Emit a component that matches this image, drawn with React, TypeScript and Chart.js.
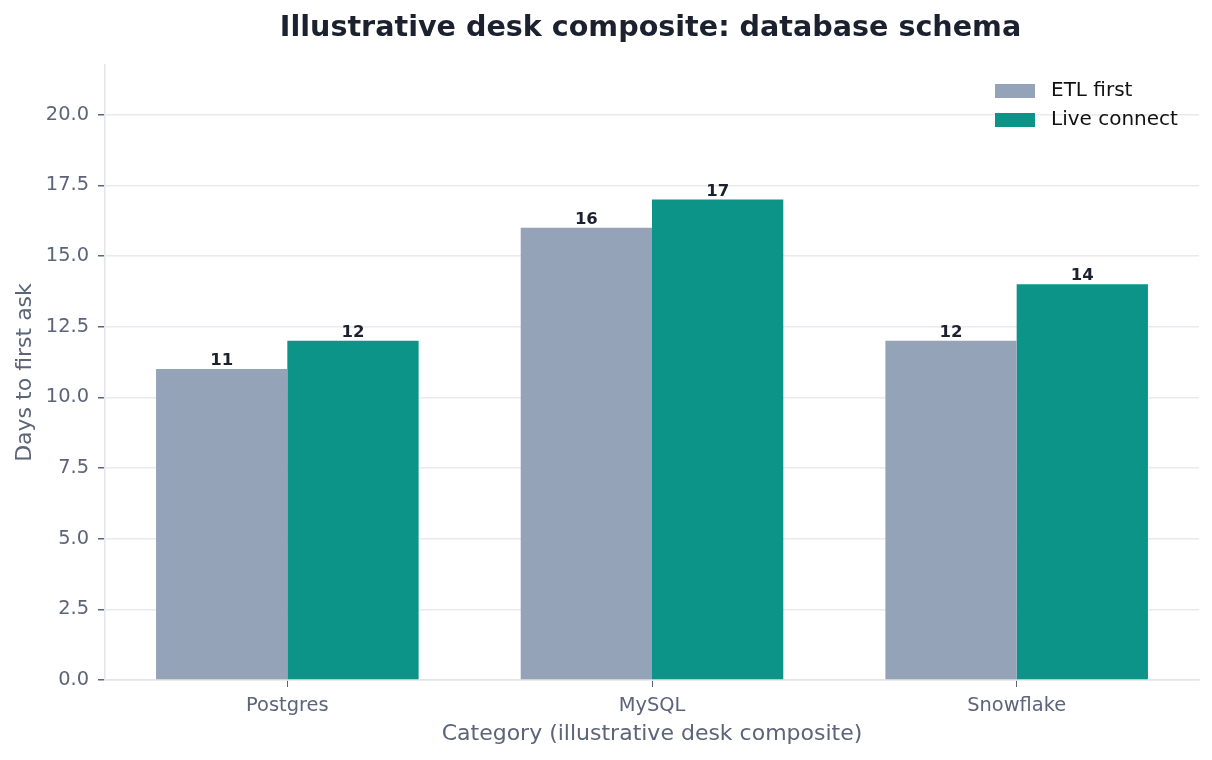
import React, { useEffect, useRef } from "react";
import { Chart, registerables } from "chart.js";

Chart.register(...registerables);

const categories = ["Postgres", "MySQL", "Snowflake"];
const etlFirst = [11, 16, 12];
const liveConnect = [12, 17, 14];
const seriesNames = ["ETL first", "Live connect"];
const seriesColors = ["#94a3b8", "#0d9488"];
const yMax = 21.76;
const chartTitle = "Illustrative desk composite: database schema";

const FONT = "'DejaVu Sans', sans-serif";

// title centred over the plot area, like the reference
const plotTitle = {
  id: "plotTitle",
  afterDraw(chart: any) {
    const ctx = chart.ctx;
    const area = chart.chartArea;
    ctx.save();
    ctx.font = `bold 28.6px ${FONT}`;
    ctx.fillStyle = "#1c2130";
    ctx.textAlign = "center";
    ctx.textBaseline = "middle";
    ctx.fillText(chartTitle, (105 + 1196) / 2, 29);
    ctx.restore();
  },
};

// value labels above each bar
const barLabels = {
  id: "barLabels",
  afterDatasetsDraw(chart: any) {
    const ctx = chart.ctx;
    ctx.save();
    ctx.font = `bold 16.5px ${FONT}`;
    ctx.fillStyle = "#1c2130";
    ctx.textAlign = "center";
    ctx.textBaseline = "alphabetic";
    chart.data.datasets.forEach((ds: any, i: number) => {
      const meta = chart.getDatasetMeta(i);
      meta.data.forEach((bar: any, j: number) => {
        ctx.fillText(String(ds.data[j]), bar.x, bar.y - 4);
      });
    });
    ctx.restore();
  },
};

// legend drawn inside the plot, top right
const innerLegend = {
  id: "innerLegend",
  afterDraw(chart: any) {
    const ctx = chart.ctx;
    const area = chart.chartArea;
    ctx.save();
    ctx.font = `20px ${FONT}`;
    ctx.textBaseline = "middle";
    ctx.textAlign = "left";
    chart.data.datasets.forEach((ds: any, i: number) => {
      const y = area.top + 26 + i * 29;
      const x = 995;
      ctx.fillStyle = ds.backgroundColor;
      ctx.fillRect(x, y - 7, 40, 14);
      ctx.fillStyle = "#111111";
      ctx.fillText(ds.label, x + 56, y);
    });
    ctx.restore();
  },
};

export default function App() {
  const canvasRef = useRef<HTMLCanvasElement | null>(null);
  const chartRef = useRef<Chart | null>(null);

  useEffect(() => {
    if (!canvasRef.current) return;
    if (chartRef.current) chartRef.current.destroy();

    chartRef.current = new Chart(canvasRef.current, {
      type: "bar",
      data: {
        labels: categories,
        datasets: [
          {
            label: seriesNames[0],
            data: etlFirst,
            backgroundColor: seriesColors[0],
            categoryPercentage: 0.72,
            barPercentage: 1.0,
          },
          {
            label: seriesNames[1],
            data: liveConnect,
            backgroundColor: seriesColors[1],
            categoryPercentage: 0.72,
            barPercentage: 1.0,
          },
        ],
      },
      options: {
        animation: false,
        responsive: true,
        maintainAspectRatio: false,
        layout: { padding: { left: 0, right: 13, top: 65, bottom: 0 } },
        plugins: {
          legend: { display: false },
          tooltip: { enabled: false },
          title: { display: false },
        },
        scales: {
          x: {
            afterFit: (scale: any) => {
              scale.height = 80;
            },
            grid: {
              drawOnChartArea: false,
              offset: false,
              tickLength: 7,
              tickColor: "#5b6478",
            },
            border: { color: "#e2e5ea", width: 1.5 },
            ticks: {
              color: "#5b6478",
              font: { family: FONT, size: 19.4 },
              padding: 7,
            },
            title: {
              display: true,
              text: "Category (illustrative desk composite)",
              color: "#5b6478",
              font: { family: FONT, size: 22 },
              padding: { top: 4, bottom: 13 },
            },
          },
          y: {
            min: 0,
            max: yMax,
            afterFit: (scale: any) => {
              scale.width = 105;
            },
            grid: {
              color: "#e8eaee",
              lineWidth: 1.5,
              tickLength: 7,
              tickColor: "#5b6478",
            },
            border: { color: "#e2e5ea", width: 1.5 },
            ticks: {
              stepSize: 2.5,
              includeBounds: false,
              color: "#5b6478",
              font: { family: FONT, size: 19.4 },
              padding: 9,
              callback: (v: any) => Number(v).toFixed(1),
            },
            title: {
              display: true,
              text: "Days to first ask",
              color: "#5b6478",
              font: { family: FONT, size: 22 },
              padding: { top: 12, bottom: 4 },
            },
          },
        },
      },
      plugins: [barLabels, innerLegend, plotTitle],
    });

    return () => {
      if (chartRef.current) {
        chartRef.current.destroy();
        chartRef.current = null;
      }
    };
  }, []);

  return (
    <div
      style={{
        position: "fixed",
        left: 0,
        top: 0,
        width: 1212,
        height: 760,
        background: "#ffffff",
      }}
    >
      <canvas ref={canvasRef}></canvas>
    </div>
  );
}
